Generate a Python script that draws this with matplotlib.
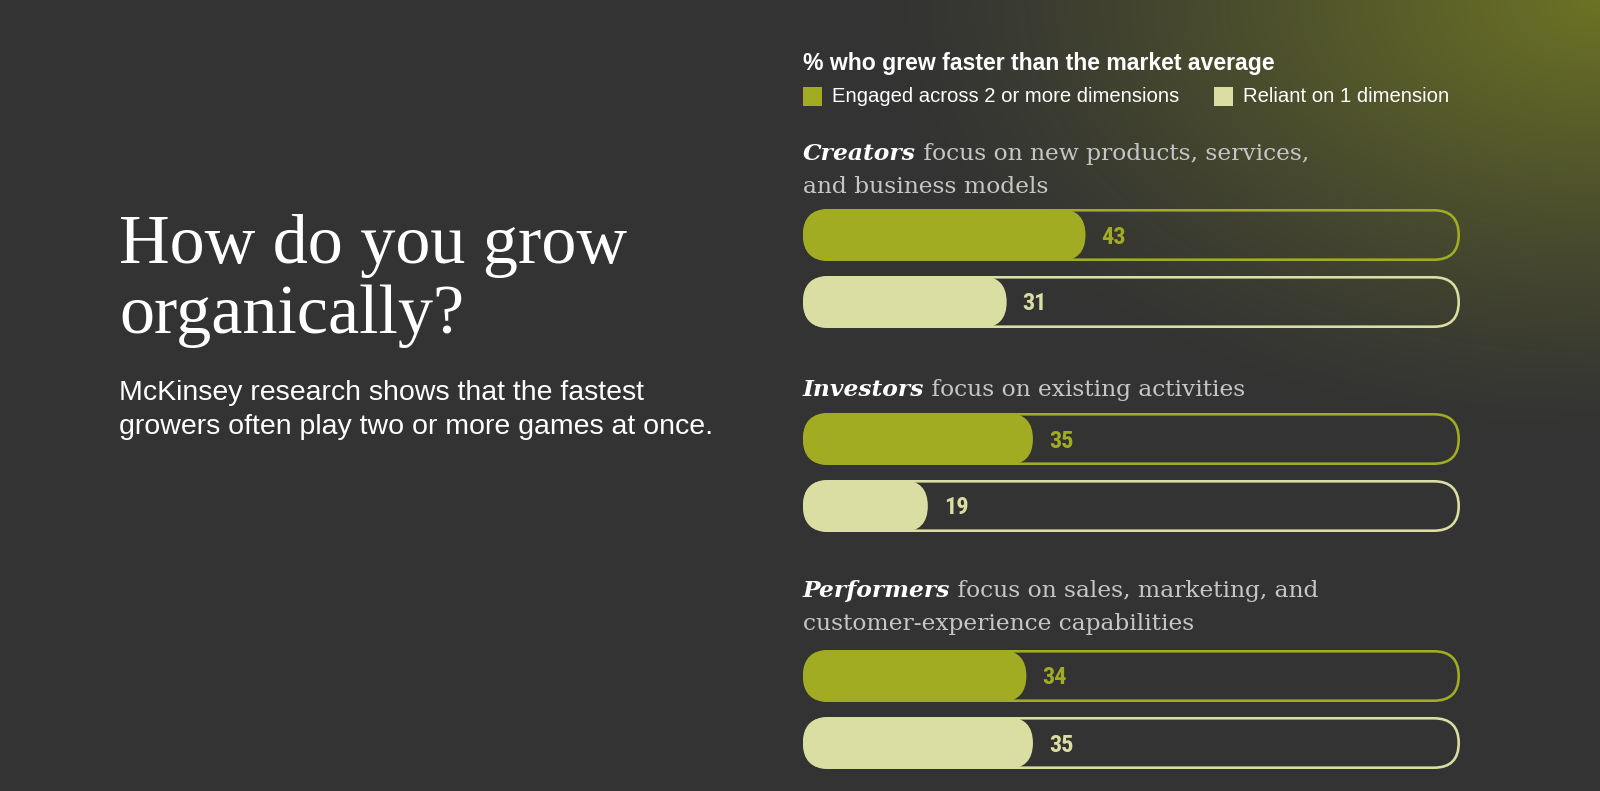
import numpy as np
import matplotlib
matplotlib.use('Agg')
import matplotlib.pyplot as plt
from matplotlib.patches import FancyBboxPatch, Rectangle

# ---------------- data ----------------
groups = ['Creators', 'Investors', 'Performers']
descriptions = [
    ['focus on new products, services,', 'and business models'],
    ['focus on existing activities'],
    ['focus on sales, marketing, and', 'customer-experience capabilities'],
]
series_names = ['Engaged across 2 or more dimensions', 'Reliant on 1 dimension']
engaged = [43, 35, 34]
reliant = [31, 19, 35]
title_lines = ['How do you grow', 'organically?']
subtitle_lines = ['McKinsey research shows that the fastest',
                  'growers often play two or more games at once.']
legend_title = '% who grew faster than the market average'

# ---------------- style ----------------
W, H, DPI = 1600, 791, 100
BG = '#333333'
GREEN = '#a2ac22'
PALE = '#dbdea2'
HEAD_GRAY = '#c6c6c6'
colors = [GREEN, PALE]
SERIF_TITLE = ['Liberation Serif', 'DejaVu Serif']
SERIF_HEAD = ['DejaVu Serif']
SANS = ['Liberation Sans', 'DejaVu Sans']
NARROW = ['Roboto Condensed', 'DejaVu Sans']

fig = plt.figure(figsize=(W / DPI, H / DPI), dpi=DPI)
fig.patch.set_facecolor(BG)

# background with olive glow in the upper right corner
bg_ax = fig.add_axes([0, 0, 1, 1], zorder=0)
bg_ax.set_axis_off()
yy, xx = np.mgrid[0:H, 0:W]
d = np.sqrt(((W - xx) / 720.0) ** 2 + (yy / 440.0) ** 2)
t = np.clip(1 - d, 0, 1) ** 1.25
c0 = np.array([51, 51, 51]) / 255
c1 = np.array([108, 115, 36]) / 255
img = c0[None, None, :] + t[..., None] * (c1 - c0)[None, None, :]
bg_ax.imshow(img, extent=(0, W, H, 0), aspect='auto', interpolation='bilinear')
bg_ax.set_xlim(0, W)
bg_ax.set_ylim(H, 0)

# title & subtitle (pixel coordinates on background axes)
for i, line in enumerate(title_lines):
    bg_ax.text(119, 263 + i * 70, line, family=SERIF_TITLE, fontsize=50.5,
               color='white', va='baseline', ha='left')
for i, line in enumerate(subtitle_lines):
    bg_ax.text(119, 400 + i * 34, line, family=SANS, fontsize=20.5,
               color='white', va='baseline', ha='left')

# legend
bg_ax.text(803, 70, legend_title, family=SANS, fontsize=16.6, fontweight='bold',
           color='white', va='baseline', ha='left')
leg_x = [803, 1214]
for name, col, lx in zip(series_names, colors, leg_x):
    bg_ax.add_patch(Rectangle((lx, 87), 18.5, 18.5, facecolor=col, edgecolor='none'))
    bg_ax.text(lx + 29, 102.5, name, family=SANS, fontsize=14.6, color='white',
               va='baseline', ha='left')

# ---------------- bars ----------------
track_left, track_w = 803, 657
ax = fig.add_axes([track_left / W, 0, track_w / W, 1], zorder=2)
ax.set_axis_off()
ax.patch.set_alpha(0)
ax.set_xlim(0, 100)
ax.set_ylim(H, 0)

px_per_x = track_w / 100.0
aspect = px_per_x  # y units are pixels
bar_h = 52
r_px = bar_h / 2.0
lw_px = 2.6

header_baselines = [160, 396, 597]
line_gap = 33
bar_centers = [(235, 302), (439, 506), (676, 743)]

for g, name in enumerate(groups):
    yb = header_baselines[g]
    t1 = ax.text(0, yb, name, family=SERIF_HEAD, fontsize=16.8, fontstyle='italic',
                 fontweight='bold', color='white', va='baseline', ha='left')
    ax.annotate(' ' + descriptions[g][0], xy=(1, 0), xycoords=t1,
                family=SERIF_HEAD, fontsize=16.8, color=HEAD_GRAY,
                va='bottom', ha='left')
    for k, extra in enumerate(descriptions[g][1:]):
        ax.text(0, yb + line_gap * (k + 1), extra, family=SERIF_HEAD, fontsize=16.8,
                color=HEAD_GRAY, va='baseline', ha='left')

    vals = [engaged[g], reliant[g]]
    for s, (v, yc) in enumerate(zip(vals, bar_centers[g])):
        col = colors[s]
        inset = lw_px / 2.0
        ax.add_patch(FancyBboxPatch(
            (inset / px_per_x, yc - r_px + inset),
            100 - 2 * inset / px_per_x, bar_h - 2 * inset,
            boxstyle=f'round,pad=0,rounding_size={(r_px - inset) / px_per_x}',
            mutation_aspect=aspect, facecolor='none', edgecolor=col,
            linewidth=lw_px * 72 / DPI, zorder=2))
        ax.add_patch(FancyBboxPatch(
            (0, yc - r_px), v, bar_h,
            boxstyle=f'round,pad=0,rounding_size={r_px / px_per_x}',
            mutation_aspect=aspect, facecolor=col, edgecolor='none', zorder=3))
        ax.annotate(str(v), xy=(v, yc + 8.5), xytext=(11.5, 0), textcoords='offset points',
                    family=NARROW, fontsize=17.5, fontweight='bold', color=col,
                    va='baseline', ha='left', zorder=4)

fig.savefig('out.png', dpi=DPI, facecolor=BG)
